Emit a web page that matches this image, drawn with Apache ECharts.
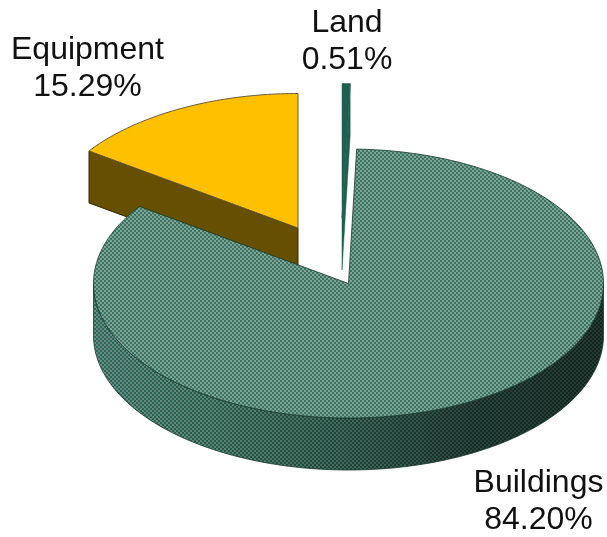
<!DOCTYPE html>
<html>
<head>
<meta charset="utf-8">
<title>Exploded pie</title>
<script src="https://cdn.jsdelivr.net/npm/echarts@6/dist/echarts.min.js"></script>
<style>
  html, body { margin: 0; background: #fff; }
  #chart { width: 607px; height: 537px; }
</style>
</head>
<body>
<div id="chart"></div>
<script>
const categories = ['Land', 'Buildings', 'Equipment'];
const shares = [0.51, 84.20, 15.29];

// layout of the tilted disc, not data
const center = { x: 348.5, y: 283.5 };
const rx = 255;
const ry = 134.5;
const depth = 52;
const offsets = { Land: [-6.5, -65.5], Buildings: [0, 0], Equipment: [-50.5, -55.5] };
const labelPos = { Land: [347, 41.5], Buildings: [538.5, 501.5], Equipment: [87.5, 68.5] };
const layer = { Equipment: 1, Land: 2, Buildings: 3 };

const makeCanvas = (w, h) => {
  const c = document.createElement('canvas');
  c.width = w;
  c.height = h;
  return c;
};

// dithered top face of the big slice
function topPattern() {
  const c = makeCanvas(4, 4);
  const g = c.getContext('2d');
  g.fillStyle = '#7ba594';
  g.fillRect(0, 0, 4, 4);
  g.fillStyle = '#3f7263';
  g.fillRect(0, 0, 2, 2);
  g.fillRect(2, 2, 2, 2);
  return c;
}

// striped outer wall, light on the left going dark on the right
function wallPattern() {
  const c = makeCanvas(607, 4);
  const g = c.getContext('2d');
  const stops = [
    [90, [112, 135, 140], [38, 110, 80]],
    [200, [98, 132, 122], [34, 94, 72]],
    [340, [68, 104, 92], [30, 70, 58]],
    [470, [42, 68, 60], [22, 46, 40]],
    [607, [36, 56, 50], [18, 36, 30]]
  ];
  const mix = (x, k) => {
    let i = 0;
    while (i < stops.length - 2 && x > stops[i + 1][0]) i++;
    const t = Math.min(1, Math.max(0, (x - stops[i][0]) / (stops[i + 1][0] - stops[i][0])));
    return stops[i][k].map((v, n) => Math.round(v + (stops[i + 1][k][n] - v) * t));
  };
  for (let x = 0; x < 607; x++) {
    for (let y = 0; y < 4; y++) {
      const k = (x + (y >> 1) * 2) % 4 < 2 ? 1 : 2;
      const rgb = mix(x, k);
      g.fillStyle = 'rgb(' + rgb.join(',') + ')';
      g.fillRect(x, y, 1, 1);
    }
  }
  return c;
}

const styles = {
  Land: {
    top: { fill: '#1f5f4f', stroke: '#1f5f4f', lineWidth: 0.5 },
    wall: { fill: '#1f5f4f', stroke: '#1f5f4f', lineWidth: 0.5 }
  },
  Buildings: {
    top: { fill: { image: topPattern(), repeat: 'repeat' }, stroke: '#17382c', lineWidth: 0.8 },
    wall: { fill: { image: wallPattern(), repeat: 'repeat' }, stroke: '#17382c', lineWidth: 0.8 }
  },
  Equipment: {
    top: { fill: '#ffc000', stroke: '#6b5a40', lineWidth: 1 },
    wall: { fill: '#665000', stroke: '#332800', lineWidth: 1 }
  }
};

const rad = d => d * Math.PI / 180;
const rim = (cx, cy, a) => [cx + rx * Math.sin(rad(a)), cy - ry * Math.cos(rad(a))];

function arc(cx, cy, a0, a1) {
  const pts = [];
  const n = Math.max(2, Math.ceil(Math.abs(a1 - a0)));
  for (let i = 0; i <= n; i++) pts.push(rim(cx, cy, a0 + (a1 - a0) * i / n));
  return pts;
}

const poly = (points, style, z2) => ({ type: 'polygon', shape: { points }, style, z2 });
const down = p => [p[0], p[1] + depth];

const total = shares.reduce((a, b) => a + b, 0);

function renderSlice(params, api) {
  const name = categories[params.dataIndex];
  const value = api.value(0);
  let before = 0;
  for (let i = 0; i < params.dataIndex; i++) before += shares[i];
  const a0 = before / total * 360;
  const a1 = (before + value) / total * 360;
  const cx = center.x + offsets[name][0];
  const cy = center.y + offsets[name][1];
  const apex = [cx, cy];
  const z = layer[name] * 10;
  const children = [];

  // cut faces, only the ones turned to the viewer
  if (a1 > 0 && a1 < 180) {
    const p = rim(cx, cy, a1);
    children.push(poly([apex, p, down(p), down(apex)], styles[name].wall, z));
  }
  if (a0 > 180 && a0 < 360) {
    const p = rim(cx, cy, a0);
    children.push(poly([apex, p, down(p), down(apex)], styles[name].wall, z));
  }
  // outer wall on the near half
  const w0 = Math.max(a0, 90);
  const w1 = Math.min(a1, 270);
  if (w1 > w0) {
    const edge = arc(cx, cy, w0, w1);
    children.push(poly(edge.concat(edge.map(down).reverse()), styles[name].wall, z));
  }
  children.push(poly([apex].concat(arc(cx, cy, a0, a1)), styles[name].top, z + 1));
  children.push({
    type: 'text',
    z2: 100,
    style: {
      x: labelPos[name][0],
      y: labelPos[name][1],
      text: name + '\n' + value.toFixed(2) + '%',
      fill: '#111',
      font: '32px "Liberation Sans", Arial, sans-serif',
      lineHeight: 37,
      align: 'center',
      verticalAlign: 'middle'
    }
  });
  return { type: 'group', children };
}

const chart = echarts.init(document.getElementById('chart'));
chart.setOption({
  backgroundColor: '#fff',
  animation: false,
  series: [
    {
      type: 'custom',
      coordinateSystem: 'none',
      renderItem: renderSlice,
      data: shares.map(v => [v])
    }
  ]
});
</script>
</body>
</html>
